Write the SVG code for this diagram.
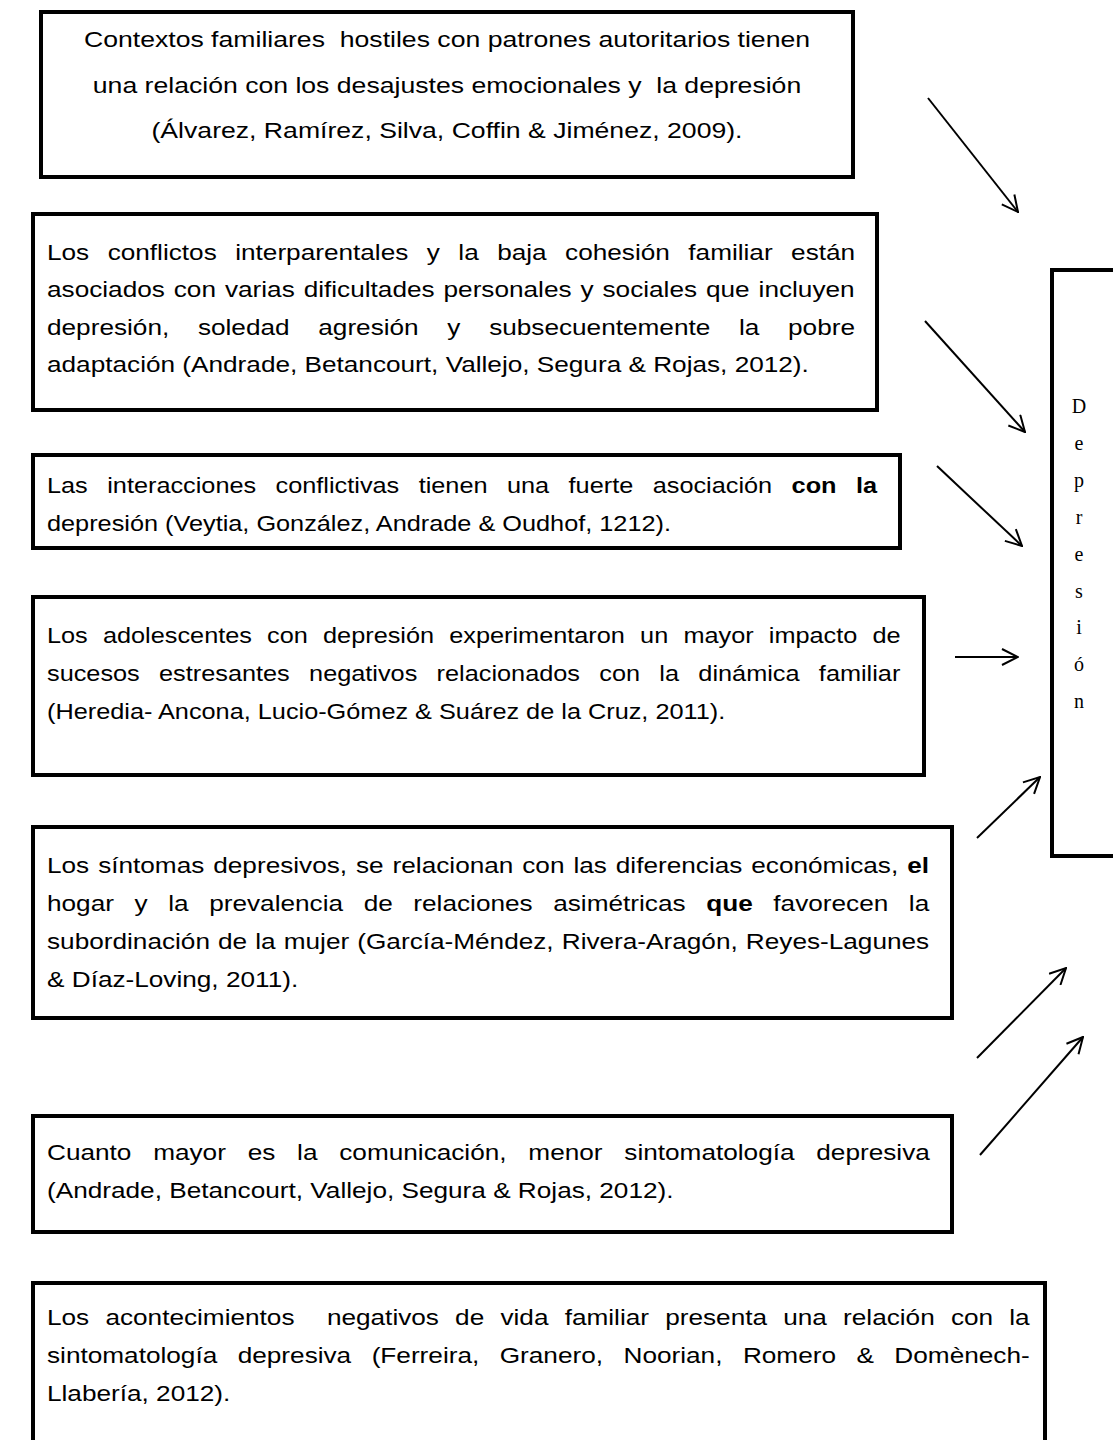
<svg xmlns="http://www.w3.org/2000/svg" width="1113" height="1440" viewBox="0 0 1113 1440">
  <style>
    .box { fill: #ffffff; stroke: #000000; stroke-width: 4; }
    .txt { font-family: "Liberation Sans", Arial, sans-serif; font-size: 22px; fill: #000000; white-space: pre; }
    .mid { text-anchor: middle; }
    .b { font-weight: bold; }
    .vert { font-family: "Liberation Serif", "Times New Roman", serif; font-size: 20px; fill: #000000; text-anchor: middle; }
    .arrow { fill: none; stroke: #000000; stroke-width: 2; marker-end: url(#head); }
  </style>
  <defs>
    <marker id="head" viewBox="0 0 18 18" refX="17" refY="9" markerWidth="18" markerHeight="18" markerUnits="userSpaceOnUse" orient="auto">
      <path d="M1,1 L17,9 L1,17" fill="none" stroke="#000000" stroke-width="2"/>
    </marker>
  </defs>
  <rect width="1113" height="1440" fill="#ffffff"/>

  <!-- text groups are scaled horizontally; justified lines get explicit word-spacing -->
  <g id="node-contextos">
    <rect class="box" x="41" y="12" width="812" height="165"/>
    <g transform="translate(447 0) scale(1.21 1)">
      <text class="txt mid" x="0" y="47">Contextos familiares  hostiles con patrones autoritarios tienen</text>
      <text class="txt mid" x="0" y="93">una relación con los desajustes emocionales y  la depresión</text>
      <text class="txt mid" x="0" y="138">(Álvarez, Ramírez, Silva, Coffin &amp; Jiménez, 2009).</text>
    </g>
  </g>

  <g id="node-conflictos">
    <rect class="box" x="33" y="214" width="844" height="196"/>
    <g transform="translate(47 0) scale(1.19 1)">
      <text class="txt" x="0" y="260" word-spacing="9.4">Los conflictos interparentales y la baja cohesión familiar están</text>
      <text class="txt" x="0" y="297" word-spacing="1.4">asociados con varias dificultades personales y sociales que incluyen</text>
      <text class="txt" x="0" y="335" word-spacing="18">depresión, soledad agresión y subsecuentemente la pobre</text>
      <text class="txt" x="0" y="372">adaptación (Andrade, Betancourt, Vallejo, Segura &amp; Rojas, 2012).</text>
    </g>
  </g>

  <g id="node-interacciones">
    <rect class="box" x="33" y="455" width="867" height="93"/>
    <g transform="translate(47 0) scale(1.15 1)">
      <text class="txt" x="0" y="493" word-spacing="10.8">Las interacciones conflictivas tienen una fuerte asociación <tspan class="b">con la</tspan></text>
      <text class="txt" x="0" y="531">depresión (Veytia, González, Andrade &amp; Oudhof, 1212).</text>
    </g>
  </g>

  <g id="node-adolescentes">
    <rect class="box" x="33" y="597" width="891" height="178"/>
    <g transform="translate(47 0) scale(1.15 1)">
      <text class="txt" x="0" y="643" word-spacing="7.1">Los adolescentes con depresión experimentaron un mayor impacto de</text>
      <text class="txt" x="0" y="681" word-spacing="10.7">sucesos estresantes negativos relacionados con la dinámica familiar</text>
      <text class="txt" x="0" y="719">(Heredia- Ancona, Lucio-Gómez &amp; Suárez de la Cruz, 2011).</text>
    </g>
  </g>

  <g id="node-sintomas">
    <rect class="box" x="33" y="827" width="919" height="191"/>
    <g transform="translate(47 0) scale(1.19 1)">
      <text class="txt" x="0" y="873" word-spacing="1.4">Los síntomas depresivos, se relacionan con las diferencias económicas, <tspan class="b">el</tspan></text>
      <text class="txt" x="0" y="911" word-spacing="11.2">hogar y la prevalencia de relaciones asimétricas <tspan class="b">que</tspan> favorecen la</text>
      <text class="txt" x="0" y="949" word-spacing="0.7">subordinación de la mujer (García-Méndez, Rivera-Aragón, Reyes-Lagunes</text>
      <text class="txt" x="0" y="987">&amp; Díaz-Loving, 2011).</text>
    </g>
  </g>

  <g id="node-comunicacion">
    <rect class="box" x="33" y="1116" width="919" height="116"/>
    <g transform="translate(47 0) scale(1.19 1)">
      <text class="txt" x="0" y="1160" word-spacing="12.2">Cuanto mayor es la comunicación, menor sintomatología depresiva</text>
      <text class="txt" x="0" y="1198">(Andrade, Betancourt, Vallejo, Segura &amp; Rojas, 2012).</text>
    </g>
  </g>

  <g id="node-acontecimientos">
    <rect class="box" x="33" y="1283" width="1012" height="180"/>
    <g transform="translate(47 0) scale(1.19 1)">
      <text class="txt" x="0" y="1325" word-spacing="7.5">Los acontecimientos  negativos de vida familiar presenta una relación con la</text>
      <text class="txt" x="0" y="1363" word-spacing="11.1">sintomatología depresiva (Ferreira, Granero, Noorian, Romero &amp; Domènech-</text>
      <text class="txt" x="0" y="1401">Llabería, 2012).</text>
    </g>
  </g>

  <g id="node-depresion">
    <rect class="box" x="1052" y="270" width="100" height="586"/>
    <text class="vert" x="1079" y="413">D</text>
    <text class="vert" x="1079" y="450">e</text>
    <text class="vert" x="1079" y="487">p</text>
    <text class="vert" x="1079" y="524">r</text>
    <text class="vert" x="1079" y="561">e</text>
    <text class="vert" x="1079" y="598">s</text>
    <text class="vert" x="1079" y="634">i</text>
    <text class="vert" x="1079" y="671">ó</text>
    <text class="vert" x="1079" y="708">n</text>
  </g>

  <g id="connectors">
    <line class="arrow" x1="928" y1="98" x2="1018" y2="212"/>
    <line class="arrow" x1="925" y1="321" x2="1025" y2="432"/>
    <line class="arrow" x1="937" y1="466" x2="1022" y2="546"/>
    <line class="arrow" x1="955" y1="657" x2="1018" y2="657"/>
    <line class="arrow" x1="977" y1="838" x2="1040" y2="777"/>
    <line class="arrow" x1="977" y1="1058" x2="1066" y2="968"/>
    <line class="arrow" x1="980" y1="1155" x2="1083" y2="1037"/>
  </g>
</svg>
